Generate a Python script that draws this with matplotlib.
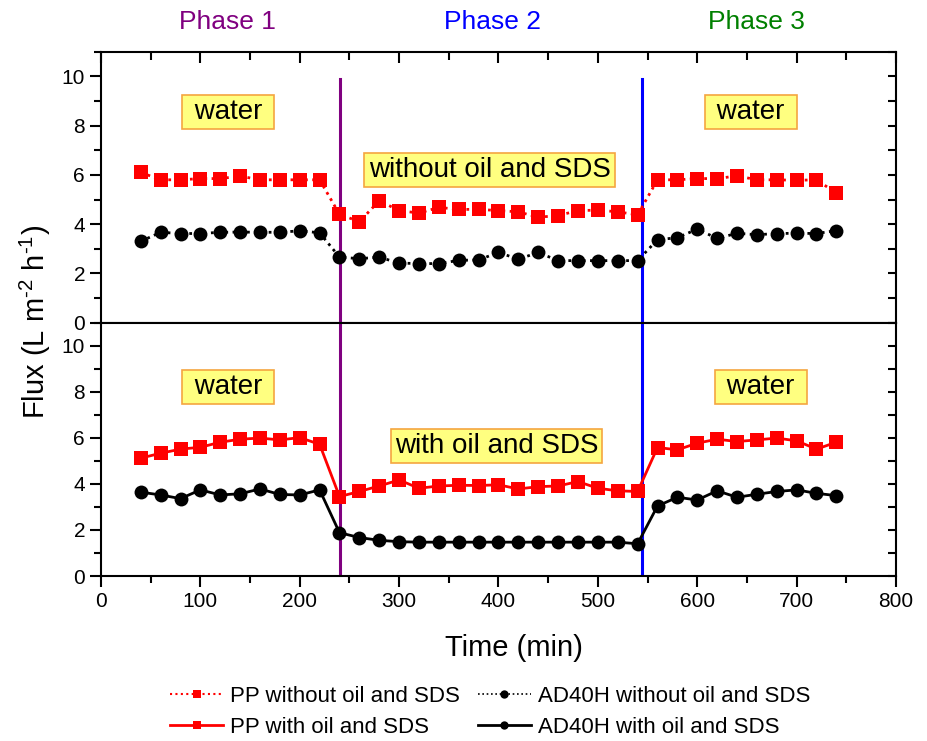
import matplotlib
matplotlib.use("Agg")
import matplotlib.pyplot as plt
from matplotlib.lines import Line2D
from matplotlib.ticker import MultipleLocator

plt.rcParams["font.family"] = ["Liberation Sans", "DejaVu Sans"]
plt.rcParams["mathtext.fontset"] = "custom"
plt.rcParams["mathtext.rm"] = "Liberation Sans"

# sampling times (min) for each phase
t_phase1 = [40, 60, 80, 100, 120, 140, 160, 180, 200, 220]
t_phase2 = [240, 260, 280, 300, 320, 340, 360, 380, 400, 420, 440, 460, 480, 500, 520, 540]
t_phase3 = [560, 580, 600, 620, 640, 660, 680, 700, 720, 740]
time = t_phase1 + t_phase2 + t_phase3

# flux without oil and SDS (phase 2 feed is plain water too)
pp_without = [6.10, 5.80, 5.80, 5.85, 5.85, 5.95, 5.80, 5.80, 5.80, 5.80,
              4.40, 4.10, 4.95, 4.55, 4.45, 4.68, 4.60, 4.60, 4.55, 4.50,
              4.28, 4.35, 4.55, 4.57, 4.50, 4.38,
              5.80, 5.80, 5.85, 5.85, 5.96, 5.80, 5.80, 5.78, 5.80, 5.26]
ad_without = [3.30, 3.67, 3.62, 3.62, 3.67, 3.68, 3.67, 3.67, 3.73, 3.65,
              2.66, 2.60, 2.66, 2.42, 2.40, 2.40, 2.53, 2.55, 2.85, 2.58,
              2.85, 2.52, 2.52, 2.52, 2.52, 2.52,
              3.37, 3.45, 3.80, 3.42, 3.63, 3.57, 3.62, 3.63, 3.62, 3.74]

# flux with oil and SDS during phase 2
pp_with = [5.12, 5.33, 5.51, 5.59, 5.81, 5.94, 5.99, 5.91, 6.01, 5.72,
           3.45, 3.67, 3.91, 4.17, 3.81, 3.91, 3.94, 3.93, 3.96, 3.78,
           3.88, 3.91, 4.10, 3.81, 3.70, 3.67,
           5.58, 5.48, 5.77, 5.94, 5.84, 5.91, 5.99, 5.87, 5.51, 5.81]
ad_with = [3.64, 3.52, 3.36, 3.74, 3.52, 3.57, 3.78, 3.54, 3.52, 3.74,
           1.88, 1.67, 1.55, 1.49, 1.47, 1.47, 1.47, 1.47, 1.47, 1.47,
           1.47, 1.47, 1.47, 1.47, 1.47, 1.40,
           3.04, 3.42, 3.30, 3.70, 3.42, 3.55, 3.67, 3.74, 3.59, 3.49]

phase_edges = [241, 544]
phase_names = ["Phase 1", "Phase 2", "Phase 3"]
phase_colors = ["#800080", "#0000FF", "#008000"]

W, H = 928, 741
fig = plt.figure(figsize=(W / 100, H / 100), dpi=100)
left, right = 101, 896
ax_top = fig.add_axes([left / W, 1 - 322.7 / H, (right - left) / W, 271 / H])
ax_bot = fig.add_axes([left / W, 1 - 576 / H, (right - left) / W, 253.3 / H])

dotted = (0, (1, 1.6))
sq = dict(marker="s", markersize=9.5, markeredgewidth=0)
ci = dict(marker="o", markersize=10, markeredgewidth=0)

ax_top.plot(time, pp_without, color="#FF0000", lw=2, ls=dotted, markerfacecolor="#FF0000", **sq)
ax_top.plot(time, ad_without, color="black", lw=2, ls=dotted, markerfacecolor="black", **ci)
ax_bot.plot(time, pp_with, color="#FF0000", lw=2, markerfacecolor="#FF0000", **sq)
ax_bot.plot(time, ad_with, color="black", lw=2, markerfacecolor="black", **ci)

for x, c in zip(phase_edges, phase_colors[:2]):
    ax_top.plot([x, x], [0, 9.88], color=c, lw=2.2, zorder=1)
    ax_bot.plot([x, x], [0, 11], color=c, lw=2.2, zorder=1)

box = dict(boxstyle="square,pad=0.15", facecolor="#FFFF80", edgecolor="#F5A540", linewidth=1.2)
txt = dict(fontsize=20, ha="center", va="center", bbox=box)
ax_top.text(128, 8.55, " water ", **txt)
ax_top.text(654, 8.55, " water ", **txt)
ax_top.text(391, 6.2, "without oil and SDS", **txt)
ax_bot.text(128, 8.2, " water ", **txt)
ax_bot.text(664, 8.2, " water ", **txt)
ax_bot.text(398, 5.65, "with oil and SDS", **txt)

for ax in (ax_top, ax_bot):
    ax.set_xlim(0, 800)
    ax.set_ylim(0, 11)
    ax.xaxis.set_major_locator(MultipleLocator(100))
    ax.xaxis.set_minor_locator(MultipleLocator(50))
    ax.yaxis.set_major_locator(MultipleLocator(2))
    ax.yaxis.set_minor_locator(MultipleLocator(1))
    for s in ax.spines.values():
        s.set_linewidth(1.5)
    ax.tick_params(axis="y", which="both", left=True, right=True, labelsize=15,
                   width=1.5)
    ax.tick_params(axis="y", which="major", length=8)
    ax.tick_params(axis="y", which="minor", length=5)
    ax.tick_params(axis="y", which="both", direction="out")

# top panel: ticks along the top edge only, no x labels
ax_top.tick_params(axis="x", which="both", bottom=False, top=True, labelbottom=False,
                   direction="in", width=1.5)
ax_top.tick_params(axis="x", which="major", length=8)
ax_top.tick_params(axis="x", which="minor", length=6)

ax_bot.tick_params(axis="x", which="both", bottom=True, top=False, direction="out",
                   labelsize=15, width=1.5)
ax_bot.tick_params(axis="x", which="major", length=8)
ax_bot.tick_params(axis="x", which="minor", length=5)

# mirrored right ticks point inward
for ax in (ax_top, ax_bot):
    for tk in ax.yaxis.get_major_ticks() + ax.yaxis.get_minor_ticks():
        tk.tick2line.set_marker(matplotlib.lines.TICKLEFT)
        tk.tick2line.set_markersize(6)

phase_x = [227, 493, 756]
for name, c, px in zip(phase_names, phase_colors, phase_x):
    fig.text(px / W, 1 - 22 / H, name, color=c, fontsize=19, ha="center", va="center")

fig.text(514 / W, 1 - 648 / H, "Time (min)", fontsize=21, ha="center", va="center")
fig.text(35 / W, 1 - 322 / H, r"Flux (L m$^{\text{-2}}$ h$^{\text{-1}}$)", fontsize=21,
         ha="center", va="center", rotation=90)

handles = [
    Line2D([], [], color="#FF0000", lw=1.5, ls=dotted, marker="s", markersize=6, markeredgewidth=0),
    Line2D([], [], color="#FF0000", lw=2, marker="s", markersize=6, markeredgewidth=0),
    Line2D([], [], color="black", lw=1.2, ls=dotted, marker="o", markersize=6, markeredgewidth=0),
    Line2D([], [], color="black", lw=2, marker="o", markersize=6, markeredgewidth=0),
]
labels = ["PP without oil and SDS", "PP with oil and SDS",
          "AD40H without oil and SDS", "AD40H with oil and SDS"]
fig.legend(handles, labels, ncol=2, loc="center", bbox_to_anchor=(490 / W, 1 - 712 / H),
           frameon=False, fontsize=16, handlelength=2.4, handletextpad=0.3,
           columnspacing=0.8, labelspacing=0.45, borderpad=0)

fig.savefig("out.png", dpi=100)
